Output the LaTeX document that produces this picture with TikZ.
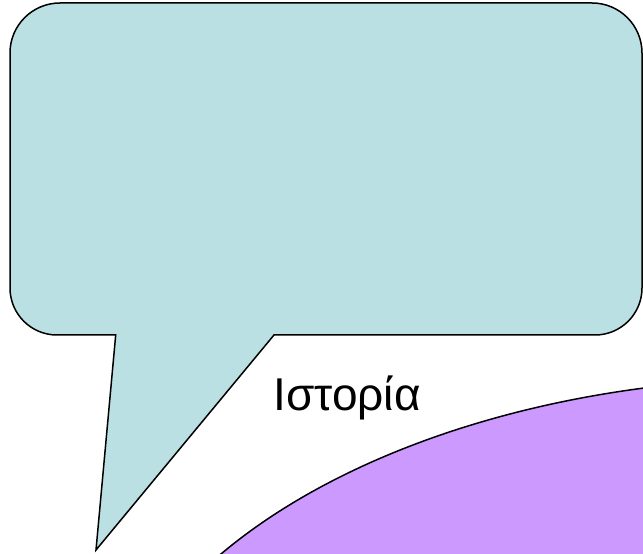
\documentclass[tikz,border=0pt]{standalone}
\usepackage{fontspec}
\setmainfont{Liberation Sans}
\definecolor{calloutblue}{HTML}{BBE0E3}
\definecolor{ellpurple}{HTML}{CC99FF}
\begin{document}
\begin{tikzpicture}[x=1pt,y=1pt,
  shapeline/.style={draw=black,line width=1.5pt,line join=miter}]
\useasboundingbox (0,0) rectangle (643,554);
\begin{scope}
\clip (0,0) rectangle (643,554);
\fill[ellpurple] (800,-226) ellipse [x radius=700, y radius=402];
\draw[shapeline] (800,-226) ellipse [x radius=700, y radius=402];
\end{scope}
\draw[shapeline, fill=calloutblue]
  (274,219) -- (595,219) arc[start angle=-90, end angle=0, radius=47]
  -- (642,501) arc[start angle=0, end angle=90, radius=50]
  -- (60,551) arc[start angle=90, end angle=180, radius=50]
  -- (10,266) arc[start angle=180, end angle=270, radius=47]
  -- (115.7,219) -- (96,4) -- cycle;
\node[anchor=base, inner sep=0pt, font=\fontsize{46}{50}\selectfont] (label) at (347,143) {Ιστορία};
\end{tikzpicture}
\end{document}
